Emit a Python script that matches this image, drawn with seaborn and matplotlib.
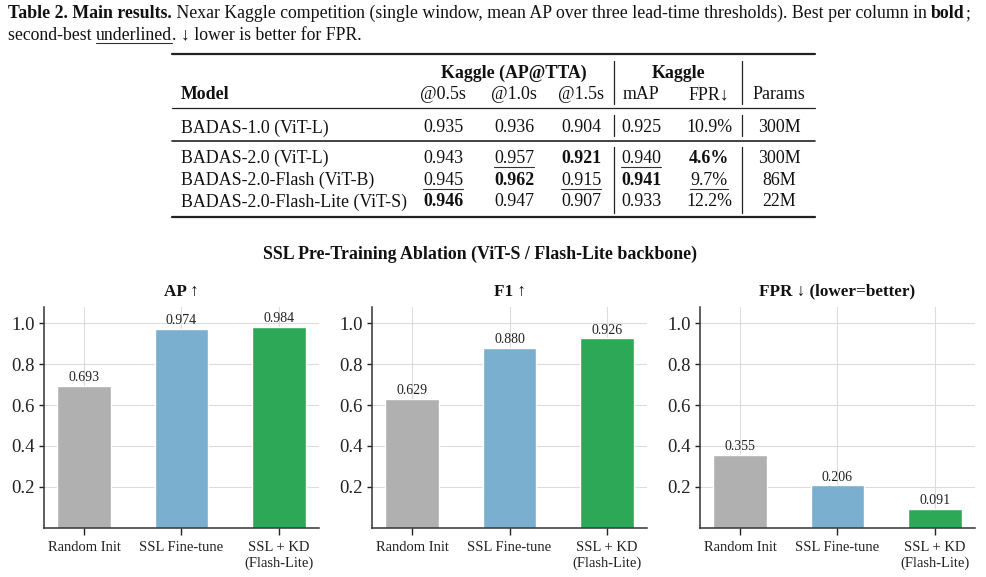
#!/usr/bin/env python3
"""Main results table plus SSL pre-training ablation bars."""

import matplotlib

matplotlib.use("Agg")
import matplotlib.pyplot as plt
import numpy as np
import pandas as pd
import seaborn as sns

W, H = 986, 577
SERIF = ["Liberation Serif", "DejaVu Serif"]

# ---- table data ----
MODELS = ["BADAS-1.0 (ViT-L)", "BADAS-2.0 (ViT-L)", "BADAS-2.0-Flash (ViT-B)", "BADAS-2.0-Flash-Lite (ViT-S)"]
AP_05 = [0.935, 0.943, 0.945, 0.946]
AP_10 = [0.936, 0.957, 0.962, 0.947]
AP_15 = [0.904, 0.921, 0.915, 0.907]
MAP = [0.925, 0.940, 0.941, 0.933]
FPR_PCT = [10.9, 4.6, 9.7, 12.2]
PARAMS = ["300M", "300M", "86M", "22M"]
SUBHEADERS = ["@0.5s", "@1.0s", "@1.5s", "mAP", "FPR\u2193", "Params"]

# ---- ablation data ----
METHODS = ["Random Init", "SSL Fine-tune", "SSL + KD\n(Flash-Lite)"]
AP_VALUES = [0.693, 0.974, 0.984]
F1_VALUES = [0.629, 0.880, 0.926]
FPR_VALUES = [0.355, 0.206, 0.091]
PANEL_TITLES = ["AP \u2191", "F1 \u2191", "FPR \u2193 (lower=better)"]
BAR_COLORS = ["#b0b0b0", "#7aafcf", "#2ca856"]


def setup_style() -> None:
    sns.set_theme(style="whitegrid")
    plt.rcParams.update(
        {
            "font.family": SERIF,
            "axes.edgecolor": "#333333",
            "axes.linewidth": 1.1,
            "text.color": "#111111",
            "xtick.color": "#222222",
            "ytick.color": "#222222",
            "xtick.bottom": True,
            "ytick.left": True,
            "xtick.major.size": 5,
            "ytick.major.size": 3.5,
            "xtick.major.width": 1.0,
            "ytick.major.width": 1.0,
            "xtick.labelsize": 10.5,
            "ytick.labelsize": 13.5,
        }
    )


def write_runs(ax, renderer, x, y, runs, size):
    """Write a sequence of (text, bold, underline, nudge) pieces on one baseline."""
    inv = ax.transData.inverted()
    for s, bold, under, nudge in runs:
        x += nudge
        t = ax.text(x, y, s, fontsize=size, fontweight="bold" if bold else "normal",
                    va="baseline", ha="left", color="#111111")
        bb = t.get_window_extent(renderer)
        (x0, _), (x1, _) = inv.transform([[bb.x0, bb.y0], [bb.x1, bb.y1]])
        if under:
            ax.plot([x0, x1], [y + 2.5, y + 2.5], color="#333333", linewidth=0.8)
        x = x1


def underline_text(ax, renderer, t, y):
    inv = ax.transData.inverted()
    bb = t.get_window_extent(renderer)
    (x0, _), (x1, _) = inv.transform([[bb.x0, bb.y0], [bb.x1, bb.y1]])
    ax.plot([x0, x1], [y, y], color="#333333", linewidth=0.8)


def draw_table(ax, renderer) -> None:
    size = 12.9
    write_runs(ax, renderer, 8, 18, [
        ("Table 2. Main results.", True, False, 0),
        (" Nexar Kaggle competition (single window, mean AP over three lead-time thresholds). Best per column in ", False, False, 0),
        ("bold", True, False, 0),
        (";", False, False, 0.5),
    ], 12.8)
    write_runs(ax, renderer, 8, 40, [
        ("second-best ", False, False, 0),
        ("underlined", False, True, 0),
        (". \u2193 lower is better for FPR.", False, False, 0),
    ], 12.8)

    # rules
    ax.plot([172, 815], [54, 54], color="#222222", linewidth=1.6)
    ax.plot([172, 815], [108, 108], color="#222222", linewidth=0.9)
    ax.plot([172, 815], [141, 141], color="#222222", linewidth=1.2)
    ax.plot([172, 815], [216.5, 216.5], color="#222222", linewidth=1.6)
    for vx in (614, 742):
        for y0, y1 in [(61, 104), (115, 136), (147, 213)]:
            ax.plot([vx, vx], [y0, y1], color="#222222", linewidth=0.9)

    col_x = [443, 514, 581, 641, 709, 779]
    ax.text(514, 77.5, "Kaggle (AP@TTA)", fontsize=size, fontweight="bold", ha="center", va="baseline")
    ax.text(679, 77.5, "Kaggle", fontsize=size, fontweight="bold", ha="center", va="baseline")
    ax.text(181, 99, "Model", fontsize=size, fontweight="bold", ha="left", va="baseline")
    for cx, h in zip(col_x, SUBHEADERS):
        ax.text(cx, 99, h, fontsize=size, ha="center", va="baseline")

    columns = [
        (AP_05, "{:.3f}", True),
        (AP_10, "{:.3f}", True),
        (AP_15, "{:.3f}", True),
        (MAP, "{:.3f}", True),
        (FPR_PCT, "{:.1f}%", False),
    ]
    row_base = [132.5, 163, 185, 206.5]
    for r, model in enumerate(MODELS):
        ax.text(181, row_base[r], model, fontsize=size, ha="left", va="baseline")
        ax.text(col_x[5], row_base[r], PARAMS[r], fontsize=size, ha="center", va="baseline")
    for c, (vals, fmt, higher) in enumerate(columns):
        order = np.argsort(vals)[::-1] if higher else np.argsort(vals)
        best, second = order[0], order[1]
        for r, v in enumerate(vals):
            t = ax.text(col_x[c], row_base[r], fmt.format(v), fontsize=size,
                        fontweight="bold" if r == best else "normal", ha="center", va="baseline")
            if r == second:
                underline_text(ax, renderer, t, row_base[r] + 3.8)


def draw_panel(ax, values, title) -> None:
    df = pd.DataFrame({"method": METHODS, "value": values})
    sns.barplot(data=df, x="method", y="value", hue="method", palette=BAR_COLORS,
                width=0.55, saturation=1, legend=False, ax=ax, zorder=2)
    for cont in ax.containers:
        ax.bar_label(cont, fmt="%.3f", padding=1.2, fontsize=10, color="#222222")
    ax.set_ylim(0, 1.08)
    ax.set_yticks([0.2, 0.4, 0.6, 0.8, 1.0])
    ax.set_yticklabels(["0.2", "0.4", "0.6", "0.8", "1.0"])
    ax.set_xlim(-0.41, 2.41)
    ax.set_xlabel("")
    ax.set_ylabel("")
    ax.set_title(title, fontweight="bold", fontsize=12.3, pad=8)
    ax.grid(True, color="#dcdcdc", linewidth=0.8)
    ax.set_axisbelow(True)
    ax.tick_params(axis="x", pad=5)
    ax.tick_params(axis="y", pad=3)
    for lab in ax.get_xticklabels():
        lab.set_linespacing(1.2)
    sns.despine(ax=ax)


def main() -> None:
    setup_style()
    fig = plt.figure(figsize=(W / 100, H / 100), dpi=100)
    fig.patch.set_facecolor("white")
    overlay = fig.add_axes([0, 0, 1, 1], facecolor="none")
    overlay.set_xlim(0, W)
    overlay.set_ylim(H, 0)
    overlay.axis("off")
    renderer = fig.canvas.get_renderer()
    draw_table(overlay, renderer)

    overlay.text(480, 254, "SSL Pre-Training Ablation (ViT-S / Flash-Lite backbone)",
                 fontsize=12.9, fontweight="bold", ha="center", va="center")

    bottom = (H - 527.5) / H
    height = (527.5 - 307) / H
    for left, vals, title in zip([44, 372, 700], [AP_VALUES, F1_VALUES, FPR_VALUES], PANEL_TITLES):
        ax = fig.add_axes([left / W, bottom, 275 / W, height])
        draw_panel(ax, vals, title)

    fig.savefig("out.png", dpi=100, facecolor="white")
    plt.close(fig)


if __name__ == "__main__":
    main()
